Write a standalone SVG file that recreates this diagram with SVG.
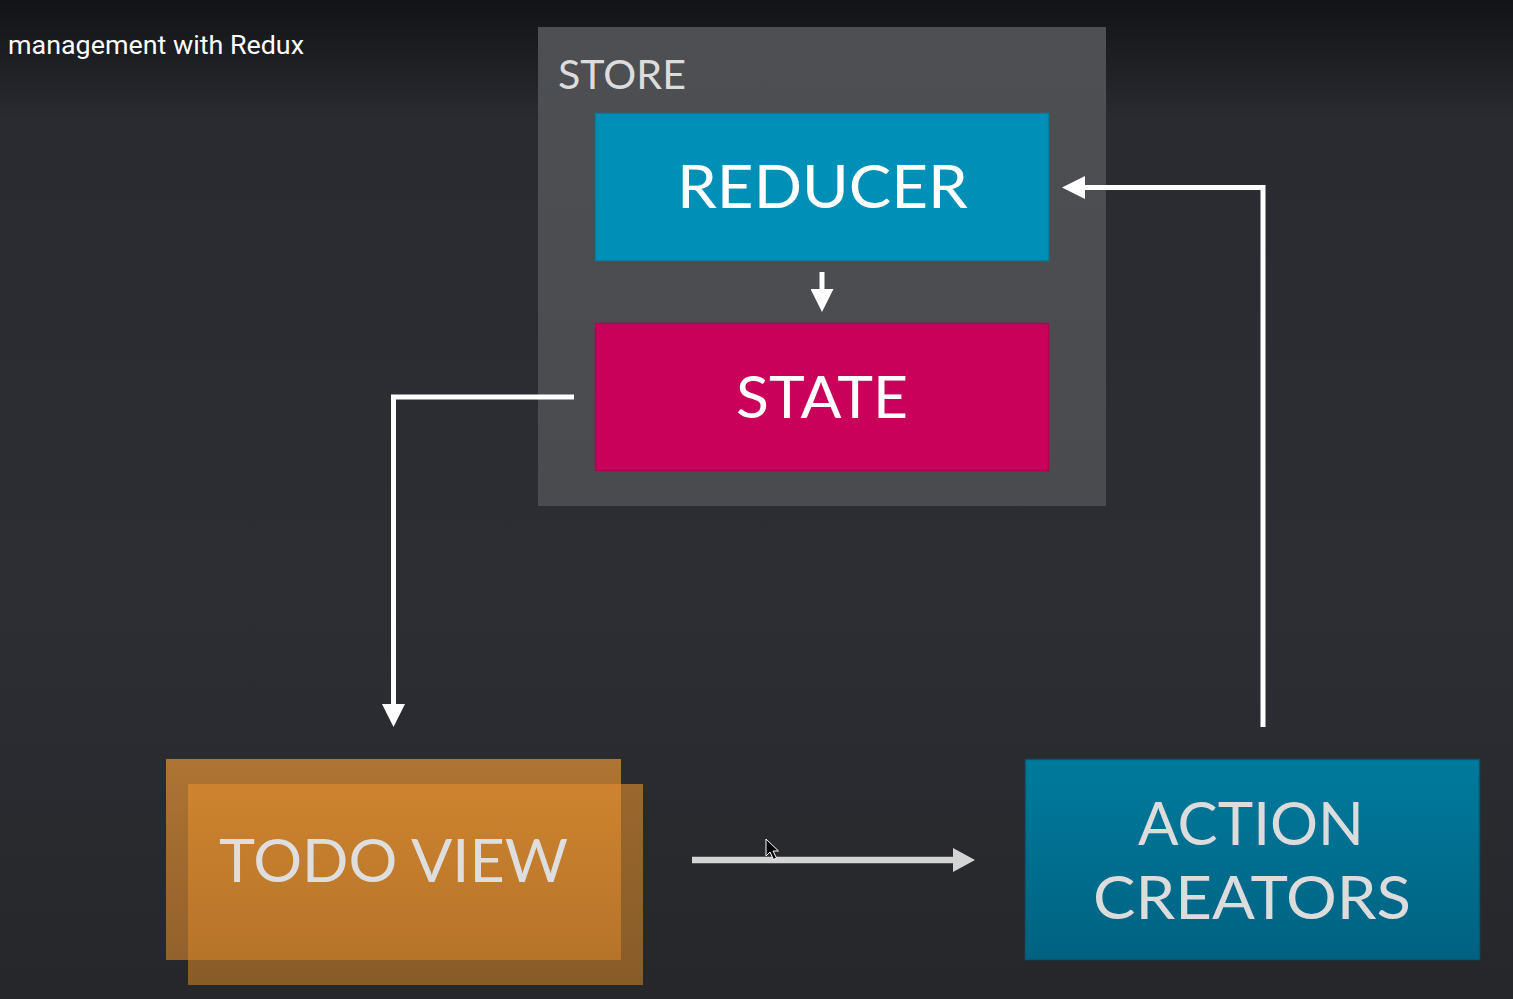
<svg xmlns="http://www.w3.org/2000/svg" width="1513" height="999" viewBox="0 0 1513 999">
  <defs>
    <linearGradient id="bg" x1="0" y1="0" x2="0" y2="1">
      <stop offset="0" stop-color="#121316"/>
      <stop offset="0.12" stop-color="#2a2b30"/>
      <stop offset="0.6" stop-color="#2d2e33"/>
      <stop offset="1" stop-color="#26272b"/>
    </linearGradient>
    <linearGradient id="storeGrad" x1="0" y1="0" x2="0" y2="1">
      <stop offset="0" stop-color="#4e4f53"/>
      <stop offset="1" stop-color="#4a4b4f"/>
    </linearGradient>
    <linearGradient id="backGrad" x1="0" y1="0" x2="0" y2="1">
      <stop offset="0" stop-color="#c58133"/>
      <stop offset="1" stop-color="#a66b2c"/>
    </linearGradient>
    <linearGradient id="frontGrad" x1="0" y1="0" x2="0" y2="1">
      <stop offset="0" stop-color="#e58f2c"/>
      <stop offset="1" stop-color="#c97f26"/>
    </linearGradient>
    <linearGradient id="actionGrad" x1="0" y1="0" x2="0" y2="1">
      <stop offset="0" stop-color="#007a9c"/>
      <stop offset="1" stop-color="#006282"/>
    </linearGradient>
    <marker id="head" viewBox="0 0 10 10" refX="0" refY="5" markerUnits="userSpaceOnUse" markerWidth="23" markerHeight="23" orient="auto" preserveAspectRatio="none">
      <path d="M0,0 L10,5 L0,10 Z" fill="#ffffff"/>
    </marker>
    <marker id="headGrey" viewBox="0 0 10 10" refX="0" refY="5" markerUnits="userSpaceOnUse" markerWidth="22" markerHeight="24" orient="auto" preserveAspectRatio="none">
      <path d="M0,0 L10,5 L0,10 Z" fill="#d4d4d4"/>
    </marker>
  </defs>
  <style>
    .label { font-family: Lato, "Open Sans", "Liberation Sans", sans-serif; font-weight: 400; }
    .conn { fill: none; stroke: #ffffff; stroke-width: 5; }
  </style>

  <rect x="0" y="0" width="1513" height="999" fill="url(#bg)"/>

  <text x="8" y="54" font-family="Roboto, 'Liberation Sans', sans-serif" font-size="26" fill="#ffffff" textLength="296" lengthAdjust="spacingAndGlyphs">management with Redux</text>

  <g id="store">
    <rect x="538" y="27" width="568" height="479" fill="url(#storeGrad)"/>
    <text class="label" x="558" y="89" font-size="40" fill="#dcdcdc" textLength="128" lengthAdjust="spacingAndGlyphs">STORE</text>
  </g>

  <g id="reducer">
    <rect x="595.5" y="113.5" width="453" height="147" fill="#0090b7" stroke="#007e9f" stroke-width="1.5"/>
    <text class="label" x="677" y="208" font-size="60" fill="#ffffff" textLength="291" lengthAdjust="spacingAndGlyphs">REDUCER</text>
  </g>

  <g id="state">
    <rect x="595.5" y="323.5" width="453" height="147" fill="#c9015b" stroke="#b3004f" stroke-width="1.5"/>
    <text class="label" x="736" y="418" font-size="58" fill="#ffffff" textLength="172" lengthAdjust="spacingAndGlyphs">STATE</text>
  </g>

  <g id="todo-view">
    <rect x="166" y="759" width="455" height="201" fill="url(#backGrad)" opacity="0.85"/>
    <rect x="188" y="784" width="455" height="201" fill="url(#frontGrad)" opacity="0.6"/>
    <text class="label" x="219" y="882" font-size="60" fill="#dedede" textLength="349" lengthAdjust="spacingAndGlyphs">TODO VIEW</text>
  </g>

  <g id="action-creators">
    <rect x="1025.5" y="759.5" width="454" height="200" fill="url(#actionGrad)" stroke="#005872" stroke-width="1.5"/>
    <text class="label" x="1138" y="845" font-size="60" fill="#dcdcdc" textLength="226" lengthAdjust="spacingAndGlyphs">ACTION</text>
    <text class="label" x="1093" y="919" font-size="60" fill="#dcdcdc" textLength="318" lengthAdjust="spacingAndGlyphs">CREATORS</text>
  </g>

  <g id="connectors">
    <path class="conn" d="M822,272 L822,289" marker-end="url(#head)"/>
    <path class="conn" d="M574,397 L393.5,397 L393.5,704" marker-end="url(#head)"/>
    <path class="conn" d="M1263,727 L1263,187.5 L1085,187.5" stroke-width="5.5" marker-end="url(#head)"/>
    <path d="M692,860 L953,860" fill="none" stroke="#d4d4d4" stroke-width="6.5" marker-end="url(#headGrey)"/>
  </g>

  <path d="M766,839 L766,856 L770,852 L773.5,859.5 L776.5,858 L773,851 L778.5,851 Z" fill="#000000" stroke="#ffffff" stroke-width="1" stroke-linejoin="round"/>
</svg>
